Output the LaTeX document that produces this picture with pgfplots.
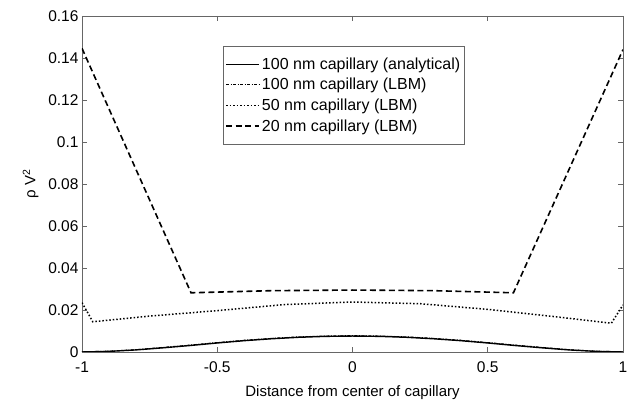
\documentclass[border=0pt]{standalone}
\usepackage{fontspec}
\setmainfont{Liberation Sans}
\usepackage{pgfplots}
\pgfplotsset{compat=1.18}
\begin{document}
\begin{tikzpicture}
\begin{axis}[
  at={(0,0)}, anchor=south west,
  scale only axis, width=541bp, height=336bp,
  xmin=-1, xmax=1, ymin=0, ymax=0.16,
  xtick={-1,-0.5,0,0.5,1}, xticklabels={-1,-0.5,0,0.5,1},
  ytick={0,0.02,0.04,0.06,0.08,0.1,0.12,0.14,0.16},
  yticklabels={0,0.02,0.04,0.06,0.08,0.1,0.12,0.14,0.16},
  tick align=inside, tick style={gray!80!black, line width=0.6bp}, major tick length=5bp,
  axis line style={gray!80!black, line width=0.8bp},
  ticklabel style={font=\fontsize{15.5bp}{17bp}\selectfont},
  xticklabel style={yshift=-6bp},
  yticklabel style={xshift=0bp},
  xlabel={Distance from center of capillary},
  ylabel={ρ V\textsuperscript{2}},
  xlabel style={font=\fontsize{15bp}{17bp}\selectfont, yshift=-6bp},
  ylabel style={font=\fontsize{15bp}{17bp}\selectfont, yshift=3bp},
  legend style={at={(0.261,0.912)}, anchor=north west, draw=gray!80!black,
    font=\fontsize{16bp}{17bp}\selectfont, row sep=3.5bp, inner xsep=2bp, inner ysep=10bp},
  legend cell align=left,
  legend image code/.code={\draw[#1] (2bp,0bp) -- (35bp,0bp);},
]
\addplot[black, line width=1.4bp] coordinates {
(-1,0) (-0.9,0.0003) (-0.8,0.0010) (-0.7,0.0020) (-0.6,0.0031) (-0.5,0.0043) (-0.4,0.0054) (-0.3,0.0063) (-0.2,0.0070) (-0.1,0.00745) (0,0.0076)
(0.1,0.00745) (0.2,0.0070) (0.3,0.0063) (0.4,0.0054) (0.5,0.0043) (0.6,0.0031) (0.7,0.0020) (0.8,0.0010) (0.9,0.0003) (1,0)};
\addlegendentry{100 nm capillary (analytical)}
\addplot[black, line width=1bp, dash pattern=on 3bp off 1.5bp on 1bp off 1.5bp] coordinates {
(-1,0.0001) (-0.9,0.0004) (-0.8,0.0011) (-0.7,0.0022) (-0.6,0.0033) (-0.5,0.0045) (-0.4,0.0056) (-0.3,0.0065) (-0.2,0.0072) (-0.1,0.0076) (0,0.0078)
(0.1,0.0076) (0.2,0.0072) (0.3,0.0065) (0.4,0.0056) (0.5,0.0045) (0.6,0.0033) (0.7,0.0022) (0.8,0.0011) (0.9,0.0004) (1,0.0001)};
\addlegendentry{100 nm capillary (LBM)}
\addplot[black, line width=1.5bp, dash pattern=on 1.5bp off 2bp] coordinates {
(-1,0.0235) (-0.96,0.0144) (-0.75,0.0171) (-0.5,0.0197) (-0.25,0.0226) (0,0.0238)
(0.25,0.0230) (0.5,0.0203) (0.75,0.0168) (0.957,0.0137) (1,0.0224)};
\addlegendentry{50 nm capillary (LBM)}
\addplot[black, line width=1.6bp, dash pattern=on 6bp off 3.5bp] coordinates {
(-1,0.1446) (-0.597,0.0282) (-0.3,0.0292) (0,0.0295) (0.3,0.0292) (0.595,0.0282) (1,0.1440)};
\addlegendentry{20 nm capillary (LBM)}
\end{axis}
\pgfresetboundingbox
\path (-82bp,-55bp) rectangle (545bp,352bp);
\end{tikzpicture}
\end{document}
